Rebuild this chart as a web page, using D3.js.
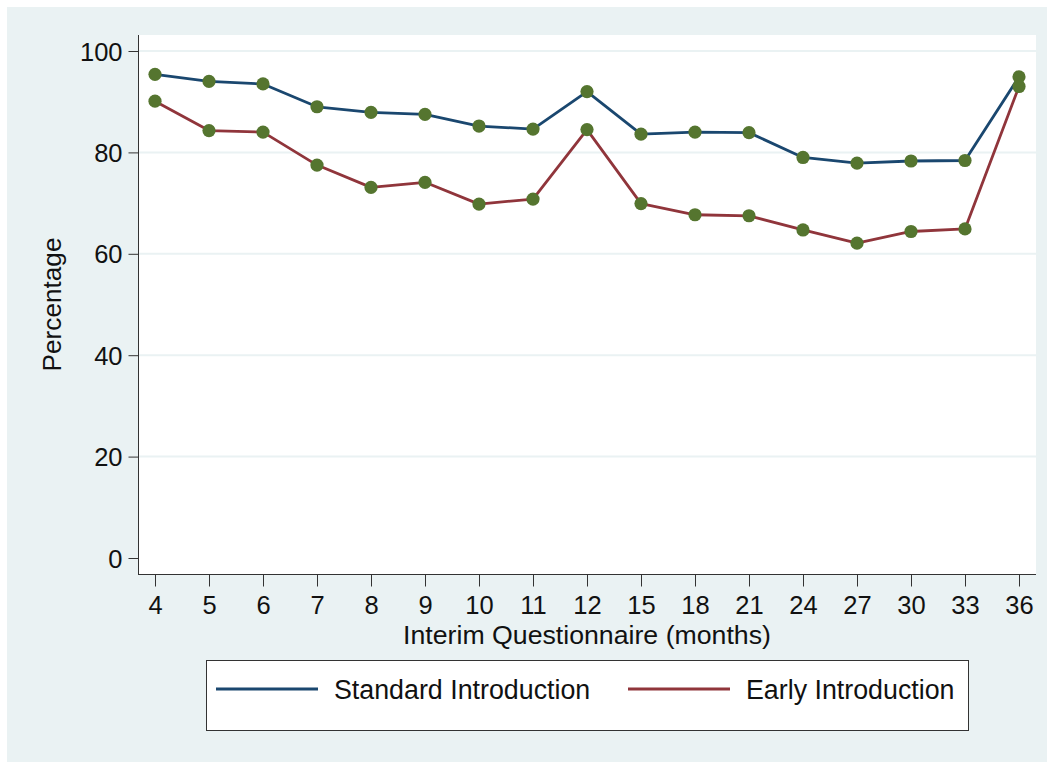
<!DOCTYPE html>
<html>
<head>
<meta charset="utf-8">
<script src="https://cdn.jsdelivr.net/npm/d3@7"></script>
<style>
  html, body { margin: 0; padding: 0; background: #ffffff; }
  svg { display: block; }
  svg text { font-family: Arial, "Liberation Sans", Helvetica, sans-serif; }
</style>
</head>
<body>
<svg id="chart" width="1050" height="762"></svg>
<script>
// Interim questionnaire time points (months)
const months = ["4", "5", "6", "7", "8", "9", "10", "11", "12", "15", "18", "21", "24", "27", "30", "33", "36"];
// Percentage of respondents per time point
const standardIntro = [95.4, 94.0, 93.5, 89.0, 87.9, 87.5, 85.2, 84.6, 92.0, 83.6, 84.0, 83.9, 79.0, 77.9, 78.3, 78.4, 94.9];
const earlyIntro    = [90.1, 84.3, 84.0, 77.5, 73.1, 74.1, 69.8, 70.8, 84.5, 69.9, 67.7, 67.5, 64.7, 62.1, 64.4, 64.9, 93.0];
const yTicks = [0, 20, 40, 60, 80, 100];
const seriesNames = ["Standard Introduction", "Early Introduction"];

const colors = { standard: "#1a476f", early: "#90353b", marker: "#55752f", bg: "#eaf2f3", grid: "#eaf2f3", axis: "#333333" };

const svg = d3.select("#chart");

// Graph background
svg.append("rect").attr("x", 7).attr("y", 7).attr("width", 1040).attr("height", 755).attr("fill", colors.bg);

// Plot region
const plot = { left: 138, right: 1036, top: 35, bottom: 574 };
svg.append("rect")
  .attr("x", plot.left).attr("y", plot.top)
  .attr("width", plot.right - plot.left).attr("height", plot.bottom - plot.top)
  .attr("fill", "#ffffff");

const x = d3.scalePoint().domain(months).range([plot.left + 17, plot.right - 17]);
const y = d3.scaleLinear().domain([0, 100]).range([558, 51]);

// Horizontal gridlines
svg.append("g").selectAll("line")
  .data(yTicks.filter(d => d > 0))
  .join("line")
  .attr("x1", plot.left).attr("x2", plot.right)
  .attr("y1", d => y(d)).attr("y2", d => y(d))
  .attr("stroke", colors.grid).attr("stroke-width", 2);

// Y axis
const yAxis = svg.append("g")
  .attr("transform", `translate(${plot.left + 0.5},0)`)
  .call(d3.axisLeft(y).tickValues(yTicks).tickSize(10).tickPadding(6))
  .call(g => g.select(".domain").attr("d", `M0,${plot.top}V${plot.bottom}`))
  .attr("font-family", null).attr("font-size", null);
yAxis.selectAll("line").attr("stroke", colors.axis);
yAxis.select(".domain").attr("stroke", colors.axis);
yAxis.selectAll("text")
  .attr("font-size", 25.5).attr("fill", "#111")
  .attr("dy", "0.36em");

// X axis
const xAxis = svg.append("g")
  .attr("transform", `translate(0,${plot.bottom + 0.5})`)
  .call(d3.axisBottom(x).tickSize(12).tickPadding(9))
  .call(g => g.select(".domain").attr("d", `M${plot.left},0H${plot.right}`))
  .attr("font-family", null).attr("font-size", null);
xAxis.selectAll("line").attr("stroke", colors.axis);
xAxis.select(".domain").attr("stroke", colors.axis);
xAxis.selectAll("text")
  .attr("font-size", 25.5).attr("fill", "#111");

// Axis titles
svg.append("text")
  .attr("x", (plot.left + plot.right) / 2).attr("y", 644)
  .attr("text-anchor", "middle").attr("font-size", 26.7).attr("fill", "#111")
  .text("Interim Questionnaire (months)");

svg.append("text")
  .attr("transform", `translate(61,${(plot.top + plot.bottom) / 2}) rotate(-90)`)
  .attr("text-anchor", "middle").attr("font-size", 26.2).attr("fill", "#111")
  .text("Percentage");

// Series lines and markers
const line = d3.line().x((d, i) => x(months[i])).y(d => y(d));
const series = [
  { name: seriesNames[0], values: standardIntro, color: colors.standard },
  { name: seriesNames[1], values: earlyIntro, color: colors.early }
];

series.forEach(s => {
  svg.append("path")
    .datum(s.values)
    .attr("d", line)
    .attr("fill", "none")
    .attr("stroke", s.color)
    .attr("stroke-width", 2.8)
    .attr("stroke-linejoin", "round");
});
series.forEach(s => {
  svg.append("g").selectAll("circle")
    .data(s.values)
    .join("circle")
    .attr("cx", (d, i) => x(months[i]))
    .attr("cy", d => y(d))
    .attr("r", 6.6)
    .attr("fill", colors.marker);
});

// Legend
const legend = svg.append("g");
legend.append("rect")
  .attr("x", 206.5).attr("y", 660.5).attr("width", 762).attr("height", 70)
  .attr("fill", "#ffffff").attr("stroke", "#333333").attr("stroke-width", 1);
const legendItems = [
  { x1: 216, x2: 318, tx: 334, color: colors.standard, label: seriesNames[0] },
  { x1: 628, x2: 730, tx: 746, color: colors.early, label: seriesNames[1] }
];
legendItems.forEach(it => {
  legend.append("line")
    .attr("x1", it.x1).attr("x2", it.x2).attr("y1", 689).attr("y2", 689)
    .attr("stroke", it.color).attr("stroke-width", 2.8);
  legend.append("text")
    .attr("x", it.tx).attr("y", 699)
    .attr("font-size", 26.8).attr("fill", "#111")
    .text(it.label);
});
</script>
</body>
</html>
